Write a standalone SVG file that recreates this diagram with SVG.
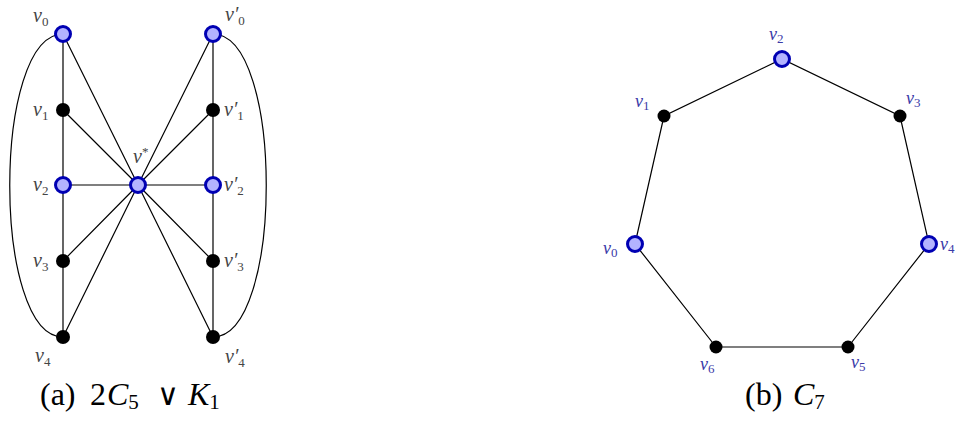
<svg xmlns="http://www.w3.org/2000/svg" width="960" height="423" viewBox="0 0 960 423">
<style>
.e{stroke:#000;stroke-width:1.2;fill:none}
.b{fill:#b3b3ff;stroke:#0000b3;stroke-width:3}
.k{fill:#000}
.lg{font-family:"Liberation Serif",serif;font-style:italic;font-size:20px;fill:#444}
.lb{font-family:"Liberation Serif",serif;font-style:italic;font-size:18px;fill:#3a3aa8}
.sub{font-size:13px;font-style:normal}
.cap{font-family:"Liberation Serif",serif;font-size:32px;fill:#000}
</style>
<rect width="960" height="423" fill="#fff"/>
<g id="connectors">
<path class="e" d="M63,34 L63,337 M213,34 L213,337 M63,185 L213,185"/>
<path class="e" d="M138,185 L63,34 M138,185 L63,110 M138,185 L63,261 M138,185 L63,337 M138,185 L213,34 M138,185 L213,110 M138,185 L213,261 M138,185 L213,337"/>
<path class="e" d="M63,34 C-8,34 -8,337 63,337"/>
<path class="e" d="M213,34 C284,34 284,337 213,337"/>
<path class="e" d="M635,244 L664,116 L782,59 L900,116 L929,244 L848,347 L716,347 Z"/>
</g>
<g id="a_v0"><circle class="b" cx="63" cy="34" r="7.5"/><text class="lg" x="33" y="22">v<tspan class="sub" dy="4">0</tspan></text></g>
<g id="a_v1"><circle class="k" cx="63" cy="110" r="7"/><text class="lg" x="33" y="116">v<tspan class="sub" dy="4">1</tspan></text></g>
<g id="a_v2"><circle class="b" cx="63" cy="185" r="7.5"/><text class="lg" x="33" y="191">v<tspan class="sub" dy="4">2</tspan></text></g>
<g id="a_v3"><circle class="k" cx="63" cy="261" r="7"/><text class="lg" x="33" y="267">v<tspan class="sub" dy="4">3</tspan></text></g>
<g id="a_v4"><circle class="k" cx="63" cy="337" r="7"/><text class="lg" x="35" y="362">v<tspan class="sub" dy="4">4</tspan></text></g>
<g id="a_vstar"><circle class="b" cx="138" cy="185" r="7.5"/><text class="lg" x="133" y="163">v<tspan class="sub" dy="-7">*</tspan></text></g>
<g id="a_v0p"><circle class="b" cx="213" cy="34" r="7.5"/><text class="lg" x="225" y="21">v′<tspan class="sub" dy="4">0</tspan></text></g>
<g id="a_v1p"><circle class="k" cx="213" cy="110" r="7"/><text class="lg" x="224" y="116">v′<tspan class="sub" dy="4">1</tspan></text></g>
<g id="a_v2p"><circle class="b" cx="213" cy="185" r="7.5"/><text class="lg" x="224" y="191">v′<tspan class="sub" dy="4">2</tspan></text></g>
<g id="a_v3p"><circle class="k" cx="213" cy="261" r="7"/><text class="lg" x="224" y="267">v′<tspan class="sub" dy="4">3</tspan></text></g>
<g id="a_v4p"><circle class="k" cx="213" cy="337" r="7"/><text class="lg" x="225" y="363">v′<tspan class="sub" dy="4">4</tspan></text></g>
<g id="b_v0"><circle class="b" cx="635" cy="244" r="7.5"/><text class="lb" x="603" y="254">v<tspan class="sub" dy="3">0</tspan></text></g>
<g id="b_v1"><circle class="k" cx="664" cy="116" r="6.5"/><text class="lb" x="635" y="107">v<tspan class="sub" dy="3">1</tspan></text></g>
<g id="b_v2"><circle class="b" cx="782" cy="59" r="7.5"/><text class="lb" x="769" y="40">v<tspan class="sub" dy="3">2</tspan></text></g>
<g id="b_v3"><circle class="k" cx="900" cy="116" r="6.5"/><text class="lb" x="906" y="104">v<tspan class="sub" dy="3">3</tspan></text></g>
<g id="b_v4"><circle class="b" cx="929" cy="244" r="7.5"/><text class="lb" x="940" y="250">v<tspan class="sub" dy="3">4</tspan></text></g>
<g id="b_v5"><circle class="k" cx="848" cy="347" r="6.5"/><text class="lb" x="851" y="368">v<tspan class="sub" dy="3">5</tspan></text></g>
<g id="b_v6"><circle class="k" cx="716" cy="347" r="6.5"/><text class="lb" x="700" y="370">v<tspan class="sub" dy="3">6</tspan></text></g>
<text class="cap" x="40" y="405">(a)<tspan x="90">2</tspan><tspan x="107" font-style="italic">C</tspan><tspan font-size="21" dy="4">5</tspan><tspan x="157" dy="-4" font-family="DejaVu Serif" font-size="30">∨</tspan><tspan x="188" font-style="italic">K</tspan><tspan font-size="21" dy="4">1</tspan></text>
<text class="cap" x="745" y="405">(b)<tspan x="793" font-style="italic">C</tspan><tspan font-size="21" dy="4">7</tspan></text>
</svg>
